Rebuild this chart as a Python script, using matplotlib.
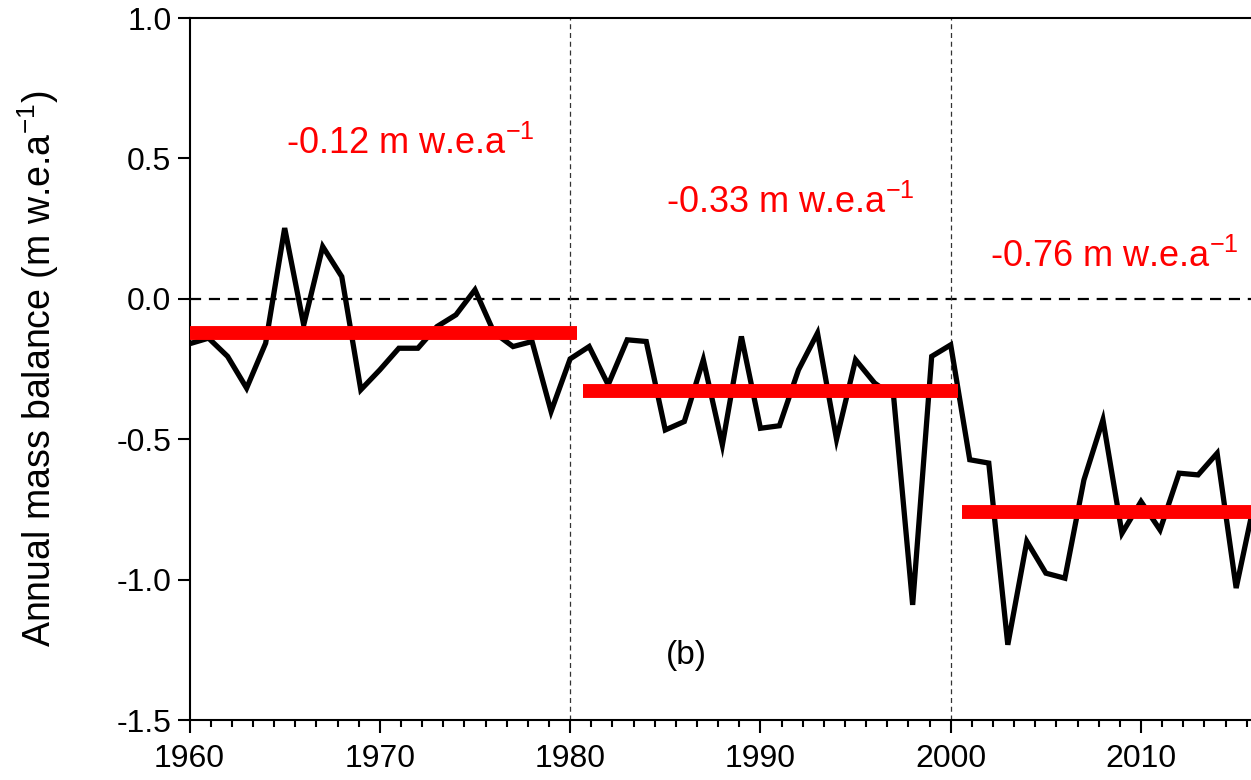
import numpy as np
import matplotlib
matplotlib.use("Agg")
import matplotlib.pyplot as plt
from matplotlib.ticker import MultipleLocator, AutoMinorLocator

plt.rcParams['font.family'] = ['Liberation Sans', 'DejaVu Sans']
plt.rcParams['mathtext.fontset'] = 'custom'
plt.rcParams['mathtext.rm'] = 'Liberation Sans'
plt.rcParams['mathtext.it'] = 'Liberation Sans:italic'
plt.rcParams['axes.unicode_minus'] = False

# annual mass balance, m w.e.
years = list(range(1960, 2017))
balance = [-0.16, -0.14, -0.205, -0.318, -0.158, 0.252, -0.093, 0.186, 0.079, -0.324,
           -0.253, -0.176, -0.176, -0.099, -0.057, 0.032, -0.12, -0.17, -0.152, -0.401,
           -0.214, -0.170, -0.306, -0.146, -0.152, -0.467, -0.437, -0.217, -0.520, -0.134,
           -0.461, -0.452, -0.253, -0.122, -0.500, -0.217, -0.300, -0.348, -1.090, -0.205,
           -0.164, -0.573, -0.585, -1.232, -0.864, -0.977, -0.995, -0.645, -0.431, -0.835,
           -0.722, -0.823, -0.621, -0.627, -0.550, -1.030, -0.71]

# period means
period_start = [1960, 1980.7, 2000.6]
period_end = [1980.35, 2000.4, 2020]
period_mean = [-0.12, -0.33, -0.76]
period_label = ['-0.12 m w.e.a$^{-1}$', '-0.33 m w.e.a$^{-1}$', '-0.76 m w.e.a$^{-1}$']
label_x = [1971.6, 1991.55, 2008.6]
label_y = [0.55, 0.343, 0.148]

fig = plt.figure(figsize=(12.51, 7.80), dpi=100)
ax = fig.add_axes([0.1515, 0.0769, 0.8485, 0.9000])

ax.axhline(0, color='black', lw=1.6, ls=(0, (5, 3.5)), zorder=1)
for xv in [1980, 2000]:
    ax.axvline(xv, color='#333333', lw=0.9, ls=(0, (4, 3)), zorder=1)

ax.plot(years, balance, color='black', lw=3.8, zorder=3, solid_joinstyle='miter')

for s, e, m in zip(period_start, period_end, period_mean):
    ax.plot([s, e], [m, m], color='red', lw=10, solid_capstyle='butt', zorder=4)

for x, y, t in zip(label_x, label_y, period_label):
    ax.text(x, y, t, color='red', fontsize=26, ha='center', va='center')

ax.text(1986.1, -1.27, '(b)', fontsize=24, ha='center', va='center')

ax.set_xlim(1960, 2015.78)
ax.set_ylim(-1.5, 1.0)
ax.xaxis.set_major_locator(MultipleLocator(10))
ax.xaxis.set_minor_locator(AutoMinorLocator(9))
ax.yaxis.set_major_locator(MultipleLocator(0.5))
ax.yaxis.set_major_formatter(plt.FormatStrFormatter('%.1f'))
ax.tick_params(axis='both', which='major', direction='out', length=9, width=1.5,
               labelsize=23, pad=4)
ax.tick_params(axis='x', which='major', pad=8)
ax.tick_params(axis='x', which='minor', direction='out', length=5, width=1.5)
for sp in ax.spines.values():
    sp.set_linewidth(1.5)
ax.spines['right'].set_visible(False)

ax.set_ylabel('Annual mass balance (m w.e.a$^{-1}$)', fontsize=27, labelpad=40)

fig.savefig('out.png', dpi=100)
